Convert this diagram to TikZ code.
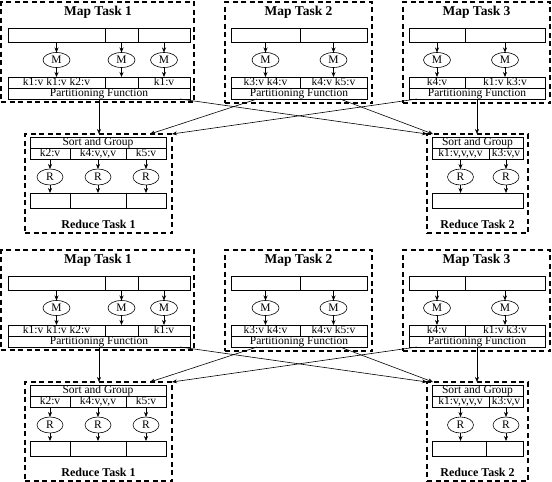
\documentclass[tikz,border=0pt]{standalone}
\usepackage{fontspec}
\setmainfont{Liberation Serif}
\usetikzlibrary{arrows.meta,shapes.geometric,calc}
\tikzset{
 cell/.style={draw, rectangle, inner sep=0pt, outer sep=0pt, line width=0.6pt, text height=7.5pt, text depth=2pt, font=\fontsize{11.5}{13}\selectfont},
 taskbox/.style={draw, dash pattern=on 5pt off 3.5pt, line width=1.2pt, rectangle, inner sep=0pt, outer sep=0pt},
 op/.style={draw, ellipse, line width=0.6pt, minimum width=27pt, minimum height=15pt, inner sep=0pt, outer sep=0pt, font=\fontsize{11.5}{13}\selectfont},
 ttl/.style={font=\fontsize{13.5}{15}\selectfont\bfseries, inner sep=0pt},
 rttl/.style={font=\fontsize{12}{14}\selectfont\bfseries, inner sep=0pt},
 arr/.style={-{Stealth[length=5pt,width=4pt]}, line width=0.6pt},
}
\newcommand\cellnode[6]{\node[cell, minimum width={#3-#2}, minimum height={#5-#4}] (#1) at ({(#2+#3)/2},{(#4+#5)/2}) {#6};}
\newcommand\boxnode[5]{\node[taskbox, minimum width={#3-#2}, minimum height={#5-#4}] (#1) at ({(#2+#3)/2},{(#4+#5)/2}) {};}
\newcommand\halfdiagram[1]{%
 % Map Task 1
 \boxnode{#1M1}{1}{194}{2}{102}
 \node[ttl] (#1M1t) at (98,12) {Map Task 1};
 \cellnode{#1M1i1}{8}{105}{28}{42}{}
 \cellnode{#1M1i2}{105}{138}{28}{42}{}
 \cellnode{#1M1i3}{138}{190}{28}{42}{}
 \node[op] (#1M1m1) at (56.5,60) {M};
 \node[op] (#1M1m2) at (121.5,60) {M};
 \node[op] (#1M1m3) at (164,60) {M};
 \cellnode{#1M1o1}{8}{105}{77}{88}{k1:v k1:v k2:v}
 \cellnode{#1M1o2}{105}{138}{77}{88}{}
 \cellnode{#1M1o3}{138}{190}{77}{88}{k1:v}
 \cellnode{#1M1p}{8}{190}{88}{99}{Partitioning Function}
 \foreach \k in {1,2,3}{\draw[arr] (#1M1i\k) -- (#1M1m\k); \draw[arr] (#1M1m\k) -- (#1M1o\k);}
 % Map Task 2
 \boxnode{#1M2}{225}{372}{2}{103}
 \node[ttl] (#1M2t) at (298.5,12) {Map Task 2};
 \cellnode{#1M2i1}{231}{300}{28}{42}{}
 \cellnode{#1M2i2}{300}{367}{28}{42}{}
 \node[op] (#1M2m1) at (265.5,60) {M};
 \node[op] (#1M2m2) at (333.5,60) {M};
 \cellnode{#1M2o1}{231}{300}{77}{88}{k3:v k4:v}
 \cellnode{#1M2o2}{300}{367}{77}{88}{k4:v k5:v}
 \cellnode{#1M2p}{231}{367}{88}{99}{Partitioning Function}
 \foreach \k in {1,2}{\draw[arr] (#1M2i\k) -- (#1M2m\k); \draw[arr] (#1M2m\k) -- (#1M2o\k);}
 % Map Task 3
 \boxnode{#1M3}{403}{550}{2}{103}
 \node[ttl] (#1M3t) at (476.5,12) {Map Task 3};
 \cellnode{#1M3i1}{409}{465}{28}{42}{}
 \cellnode{#1M3i2}{465}{545}{28}{42}{}
 \node[op] (#1M3m1) at (437,60) {M};
 \node[op] (#1M3m2) at (505,60) {M};
 \cellnode{#1M3o1}{409}{465}{77}{88}{k4:v}
 \cellnode{#1M3o2}{465}{545}{77}{88}{k1:v k3:v}
 \cellnode{#1M3p}{409}{545}{88}{99}{Partitioning Function}
 \foreach \k in {1,2}{\draw[arr] (#1M3i\k) -- (#1M3m\k); \draw[arr] (#1M3m\k) -- (#1M3o\k);}
 % Reduce Task 1
 \boxnode{#1R1}{25}{172}{134}{233}
 \cellnode{#1R1s}{30}{166}{137}{148}{Sort and Group}
 \cellnode{#1R1k1}{30}{70}{148}{159}{k2:v}
 \cellnode{#1R1k2}{70}{126}{148}{159}{k4:v,v,v}
 \cellnode{#1R1k3}{126}{166}{148}{159}{k5:v}
 \node[op,minimum width=26pt,minimum height=16pt] (#1R1r1) at (50,177) {R};
 \node[op,minimum width=26pt,minimum height=16pt] (#1R1r2) at (98,177) {R};
 \node[op,minimum width=26pt,minimum height=16pt] (#1R1r3) at (146,177) {R};
 \cellnode{#1R1o1}{30}{70}{193}{208}{}
 \cellnode{#1R1o2}{70}{126}{193}{208}{}
 \cellnode{#1R1o3}{126}{166}{193}{208}{}
 \node[rttl] (#1R1t) at (98.5,224) {Reduce Task 1};
 \foreach \k in {1,2,3}{\draw[arr] (#1R1k\k) -- (#1R1r\k); \draw[arr] (#1R1r\k) -- (#1R1o\k);}
 % Reduce Task 2
 \boxnode{#1R2}{427}{528}{134}{233}
 \cellnode{#1R2s}{432}{523}{137}{148}{Sort and Group}
 \cellnode{#1R2k1}{432}{489}{148}{159}{k1:v,v,v,v}
 \cellnode{#1R2k2}{489}{523}{148}{159}{k3:v,v}
 \node[op,minimum width=26pt,minimum height=16pt] (#1R2r1) at (460.5,177) {R};
 \node[op,minimum width=26pt,minimum height=16pt] (#1R2r2) at (506,177) {R};
 \node[rttl] (#1R2t) at (477.5,224) {Reduce Task 2};
 \foreach \k in {1,2}{\draw[arr] (#1R2k\k) -- (#1R2r\k);}
 % shuffle connectors
 \draw[arr] (#1M1p.south) -- (#1M1p.south |- #1R1.north);
 \draw[arr] ([xshift=81pt]#1M1p.south) -- (#1R2.north west);
 \draw[arr] ([xshift=-42pt]#1M2p.south) -- ([xshift=-22pt]#1R1.north east);
 \draw[arr] ([xshift=41pt]#1M2p.south) -- ([xshift=6pt]#1R2.north west);
 \draw[arr] ([xshift=-60pt]#1M3p.south) -- (#1R1.north east);
 \draw[arr] (#1M3p.south) -- (#1M3p.south |- #1R2.north);
}
\begin{document}
\begin{tikzpicture}[x=1pt,y=-1pt]
\useasboundingbox (0,0) rectangle (552,482);
\halfdiagram{a}
\cellnode{aR2o}{432}{523}{193}{208}{}
\draw[arr] (aR2r1) -- (aR2r1 |- aR2o.north);
\draw[arr] (aR2r2) -- (aR2r2 |- aR2o.north);
\begin{scope}[yshift=-248pt]
\halfdiagram{b}
\cellnode{bR2o1}{432}{486}{193}{208}{}
\cellnode{bR2o2}{486}{523}{193}{208}{}
\draw[arr] (bR2r1) -- (bR2r1 |- bR2o1.north);
\draw[arr] (bR2r2) -- (bR2r2 |- bR2o2.north);
\end{scope}
\end{tikzpicture}
\end{document}
